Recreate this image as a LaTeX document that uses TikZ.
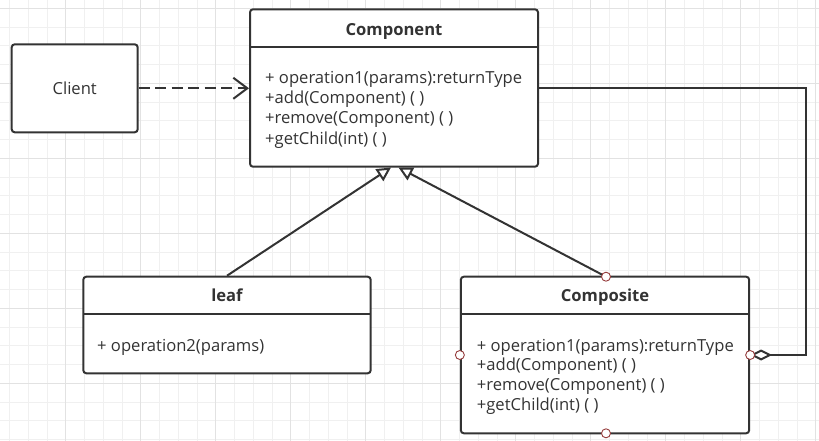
\documentclass[tikz,border=0pt]{standalone}
\usepackage{fontspec}
\setmainfont{Open Sans}
\usetikzlibrary{arrows.meta}
\definecolor{ink}{HTML}{333333}
\definecolor{gridminor}{HTML}{F0F0F0}
\definecolor{gridmajor}{HTML}{E2E2E2}
\definecolor{portred}{RGB}{150,60,60}
\tikzset{
  umlbox/.style={draw=ink, line width=2pt, rounded corners=3pt, fill=white, inner sep=0pt},
  divider/.style={draw=ink, line width=2pt},
  title/.style={font=\fontsize{16.6}{20}\selectfont\bfseries, text=ink, inner sep=0pt, text height=12pt, text depth=4pt},
  member/.style={font=\fontsize{16.6}{20}\selectfont, text=ink, inner sep=0pt, anchor=west, text height=12pt, text depth=4pt},
  conn/.style={draw=ink, line width=2pt},
  port/.style={circle, draw=portred, line width=0.9pt, fill=white, minimum size=9pt, inner sep=0pt},
}
\begin{document}
\begin{tikzpicture}[x=1pt,y=-1pt]
\useasboundingbox (0,0) rectangle (819,441);
% grid
\foreach \k in {0,...,43} \draw[gridminor, line width=0.8pt] ({9.45+18.75*\k},0) -- ({9.45+18.75*\k},441);
\foreach \k in {0,...,23} \draw[gridminor, line width=0.8pt] (0,{8.3+18.75*\k}) -- (819,{8.3+18.75*\k});
\foreach \k in {0,...,10} \draw[gridmajor, line width=0.8pt] ({65.7+75*\k},0) -- ({65.7+75*\k},441);
\foreach \k in {0,...,5} \draw[gridmajor, line width=0.8pt] (0,{8.3+75*\k}) -- (819,{8.3+75*\k});

% Client
\node[umlbox, minimum width=126pt, minimum height=88pt, font=\fontsize{16.6}{20}\selectfont, text=ink] (client) at (74.7,88.3) {Client};

% Component
\node[umlbox, minimum width=288pt, minimum height=157.4pt] (comp) at (394,88) {};
\draw[divider] (250,46.7) -- (538,46.7);
\node[title] (compT) at (394,31.5) {Component};
\node[member] (c1) at (265,80) {+ operation1(params):returnType};
\node[member] (c2) at (265,100) {+add(Component) ( )};
\node[member] (c3) at (265,120) {+remove(Component) ( )};
\node[member] (c4) at (265,140) {+getChild(int) ( )};

% leaf
\node[umlbox, minimum width=287.4pt, minimum height=96.6pt] (leaf) at (227,325) {};
\draw[divider] (83.3,314) -- (370.7,314);
\node[title] (leafT) at (227,297.5) {leaf};
\node[member] (l1) at (97,347.5) {+ operation2(params)};

% Composite
\node[umlbox, minimum width=288.3pt, minimum height=156.6pt] (compo) at (605,355) {};
\draw[divider] (461,314) -- (749.3,314);
\node[title] (compoT) at (605,297.5) {Composite};
\node[member] (p1) at (476.7,347) {+ operation1(params):returnType};
\node[member] (p2) at (476.7,366.8) {+add(Component) ( )};
\node[member] (p3) at (476.7,386.8) {+remove(Component) ( )};
\node[member] (p4) at (476.7,406.8) {+getChild(int) ( )};

% connectors
\coordinate (tipL) at (391,167.5);
\coordinate (tipR) at (398.5,167.5);
\coordinate (aggR) at (805.5,88);
\coordinate (compoTop) at (606,276.7);

\draw[conn, dash pattern=on 11pt off 5.5pt, -{Straight Barb[length=14pt,width=21pt]}] (client.east) -- (client.east -| comp.west);
\draw[conn, -{Triangle[open, fill=white, length=14pt, width=14pt]}] (leaf.north) -- (tipL);
\draw[conn, -{Triangle[open, fill=white, length=14pt, width=14pt]}] (compoTop) -- (tipR);
\draw[conn, {Diamond[open, fill=white, length=22pt, width=11pt]}-] (compo.east) -- (compo.east -| aggR) -- (aggR) -- (comp.east);

% ports
\node[port] (pt) at (compoTop) {};
\node[port] (pl) at (compo.west) {};
\node[port] (pr) at (compo.east) {};
\node[port] (pb) at (606,433.3) {};
\end{tikzpicture}
\end{document}
